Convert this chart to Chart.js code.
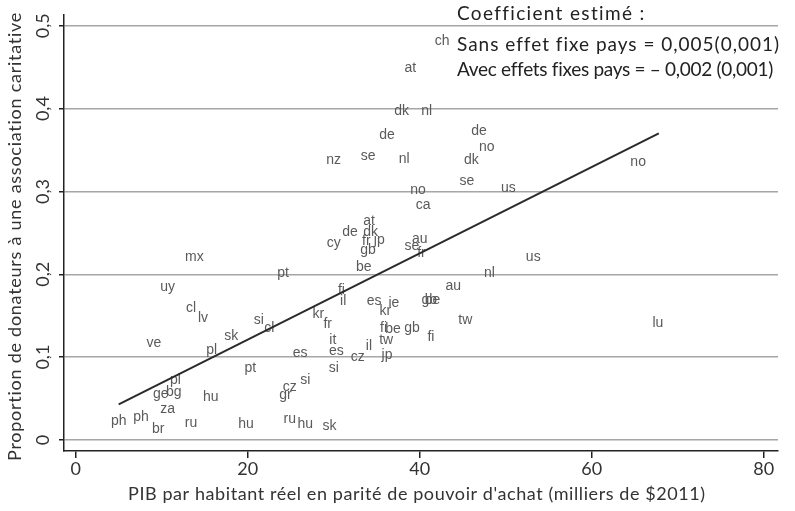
<!DOCTYPE html>
<html>
<head>
<meta charset="utf-8">
<script src="https://cdn.jsdelivr.net/npm/chart.js@4.4.1/dist/chart.umd.min.js"></script>
<style>
    html, body { margin: 0; padding: 0; background: #fff; }
</style>
</head>
<body>
<canvas id="myChart" width="795" height="511"></canvas>
<script>
// DATA
const countries = [
    "ch", "at", "dk", "nl", "de", "de", "no", "nz", "se", "nl",
    "dk", "no", "se", "us", "no", "ca", "at", "de", "dk", "cy",
    "fr", "jp", "gb", "au", "se", "fr", "be", "mx", "pt", "us",
    "nl", "au", "uy", "fi", "il", "es", "kr", "ie", "gb", "be",
    "cl", "lv", "kr", "fr", "tw", "lu", "si", "cl", "sk", "fi",
    "be", "gb", "fi", "tw", "il", "it", "es", "cz", "jp", "es",
    "si", "ve", "pl", "pt", "si", "cz", "gr", "pl", "ge", "bg",
    "hu", "za", "ph", "ph", "br", "ru", "hu", "ru", "hu", "sk"
];
const gdp = [
    42.6, 38.9, 37.9, 40.8, 36.2, 46.9, 47.8, 30.0, 34.0, 38.2,
    46.0, 65.4, 45.5, 50.3, 39.8, 40.4, 34.1, 31.9, 34.3, 30.0,
    33.8, 35.3, 34.0, 40.0, 39.1, 40.2, 33.5, 13.8, 24.1, 53.2,
    48.1, 43.9, 10.7, 30.9, 31.1, 34.7, 36.0, 37.0, 41.1, 41.5,
    13.4, 14.8, 28.2, 29.3, 45.3, 67.7, 21.3, 22.5, 18.1, 35.8,
    36.9, 39.1, 41.3, 36.1, 34.1, 29.9, 30.3, 32.8, 36.2, 26.1,
    30.0, 9.1, 15.8, 20.3, 26.7, 24.9, 24.4, 11.6, 9.9, 11.4,
    15.7, 10.7, 5.0, 7.6, 9.6, 13.4, 19.8, 24.9, 26.7, 29.5
];
const donors = [
    0.482, 0.449, 0.397, 0.397, 0.368, 0.373, 0.354, 0.338, 0.343, 0.339,
    0.338, 0.335, 0.312, 0.304, 0.301, 0.283, 0.264, 0.251, 0.251, 0.238,
    0.240, 0.241, 0.229, 0.243, 0.234, 0.226, 0.209, 0.221, 0.201, 0.221,
    0.201, 0.186, 0.184, 0.181, 0.167, 0.167, 0.156, 0.165, 0.169, 0.169,
    0.159, 0.147, 0.152, 0.140, 0.145, 0.141, 0.145, 0.135, 0.125, 0.135,
    0.134, 0.135, 0.124, 0.120, 0.113, 0.120, 0.107, 0.100, 0.103, 0.105,
    0.087, 0.117, 0.109, 0.087, 0.072, 0.064, 0.054, 0.072, 0.055, 0.058,
    0.052, 0.037, 0.023, 0.028, 0.013, 0.020, 0.019, 0.025, 0.019, 0.017
];
// FITTED LINE (END POINTS)
const fitGdp = [5.0, 67.8];
const fitDonors = [0.043, 0.370];

const xTicks = [0, 20, 40, 60, 80];
const yTicks = [0, 0.1, 0.2, 0.3, 0.4, 0.5];
const yTickLabels = ["0", "0,1", "0,2", "0,3", "0,4", "0,5"];
const xTitle = "PIB par habitant réel en parité de pouvoir d'achat (milliers de $2011)";
const yTitle = "Proportion de donateurs à une association caritative";
const noteLines = [
    "Coefficient estimé :",
    "Sans effet fixe pays = 0,005(0,001)",
    "Avec effets fixes pays = – 0,002 (0,001)"
];

const axisFont = "Lato, 'DejaVu Sans', sans-serif";
const labelFont = "'Liberation Sans', Arial, sans-serif";

// WRITE TEXT STRETCHED TO A GIVEN WIDTH (GILL SANS IS WIDER THAN LATO)
function fitText(ctx, text, x, y, width) {
    ctx.letterSpacing = "0px";
    const w = ctx.measureText(text).width;
    const gap = (width - w) / text.length;
    ctx.letterSpacing = gap.toFixed(2) + "px";
    ctx.fillText(text, x, y);
    ctx.letterSpacing = "0px";
}

// COUNTRY LABELS + TEXTS
const countryLabels = {
    id: "countryLabels",
    beforeDatasetsDraw(chart) {
        const ctx = chart.ctx;
        const meta = chart.getDatasetMeta(1);
        ctx.save();
        ctx.font = "14px " + labelFont;
        ctx.fillStyle = "#5a5a5a";
        ctx.textAlign = "center";
        ctx.textBaseline = "middle";
        meta.data.forEach(function (pt, i) {
            ctx.fillText(countries[i], pt.x, pt.y);
        });
        ctx.restore();
    },
    afterDraw(chart) {
        const ctx = chart.ctx;
        const y = chart.scales.y;
        ctx.save();
        ctx.fillStyle = "#333";
        ctx.font = "18px " + axisFont;
        // Y TICK LABELS (ROTATED)
        yTicks.forEach(function (v, i) {
            ctx.save();
            ctx.translate(43, y.getPixelForValue(v));
            ctx.rotate(-Math.PI / 2);
            ctx.textAlign = "center";
            ctx.textBaseline = "middle";
            ctx.fillText(yTickLabels[i], 0, 0);
            ctx.restore();
        });
        // AXIS TITLES
        ctx.font = "18px " + axisFont;
        ctx.save();
        ctx.translate(15, 461);
        ctx.rotate(-Math.PI / 2);
        ctx.textAlign = "left";
        ctx.textBaseline = "middle";
        fitText(ctx, yTitle, 0, 0, 450);
        ctx.restore();
        ctx.textAlign = "left";
        ctx.textBaseline = "middle";
        fitText(ctx, xTitle, 128, 494, 578);
        // NOTE
        ctx.font = "19px " + axisFont;
        ctx.textBaseline = "alphabetic";
        ctx.fillStyle = "#222";
        fitText(ctx, noteLines[0], 457, 20, 188);
        fitText(ctx, noteLines[1], 457, 51, 322);
        fitText(ctx, noteLines[2], 457, 76, 315);
        ctx.restore();
    },
};

function drawChart() {
    const ctx = document.getElementById("myChart").getContext("2d");
    new Chart(ctx, {
        type: "scatter",
        data: {
            datasets: [
                {
                    label: "fit",
                    data: fitGdp.map(function (v, i) {
                        return { x: v, y: fitDonors[i] };
                    }),
                    showLine: true,
                    borderColor: "#2a2a2a",
                    borderWidth: 2,
                    pointRadius: 0,
                },
                {
                    label: "pays",
                    data: gdp.map(function (v, i) {
                        return { x: v, y: donors[i] };
                    }),
                    pointRadius: 0,
                    pointHoverRadius: 0,
                },
            ],
        },
        options: {
            responsive: false,
            animation: false,
            layout: { padding: { top: 15, right: 17, left: 0, bottom: 0 } },
            plugins: {
                legend: { display: false },
                tooltip: { enabled: false },
            },
            scales: {
                x: {
                    type: "linear",
                    min: -1.36,
                    max: 81.66,
                    afterBuildTicks: function (scale) {
                        scale.ticks = xTicks.map(function (v) {
                            return { value: v };
                        });
                    },
                    afterFit: function (scale) {
                        scale.height = 60;
                    },
                    ticks: {
                        color: "#333",
                        font: { family: axisFont, size: 18 },
                        padding: 0,
                        maxRotation: 0,
                    },
                    grid: {
                        drawOnChartArea: false,
                        tickLength: 7,
                        tickColor: "#222",
                        lineWidth: 1.5,
                    },
                    border: { color: "#222", width: 1.5 },
                },
                y: {
                    type: "linear",
                    min: -0.0133,
                    max: 0.513,
                    afterBuildTicks: function (scale) {
                        scale.ticks = yTicks.map(function (v) {
                            return { value: v };
                        });
                    },
                    afterFit: function (scale) {
                        scale.width = 64;
                    },
                    ticks: { display: false },
                    grid: {
                        color: "#a6a6a6",
                        lineWidth: 1.5,
                        tickLength: 5,
                        tickColor: "#222",
                    },
                    border: { color: "#222", width: 1.5 },
                },
            },
        },
        plugins: [countryLabels],
    });
}

drawChart();
</script>
</body>
</html>
